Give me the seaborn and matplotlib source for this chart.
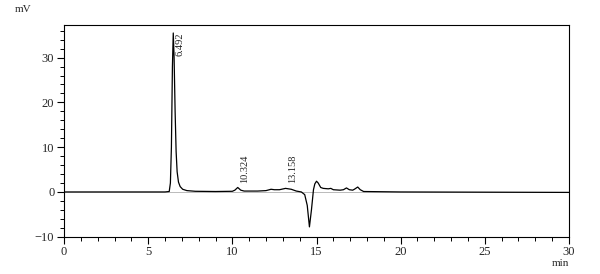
import matplotlib
matplotlib.use("Agg")
import matplotlib.pyplot as plt
import seaborn as sns
import pandas as pd
from matplotlib.ticker import MultipleLocator

time = [0.0, 6.0, 6.25, 6.32, 6.38, 6.44, 6.49, 6.54, 6.6, 6.66, 6.72, 6.8, 6.9, 7.05, 7.3, 7.8,
        9.0, 10.0, 10.15, 10.32, 10.5, 10.7, 11.5, 12.0, 12.3, 12.5, 12.8, 13.16, 13.5, 13.8,
        14.1, 14.3, 14.45, 14.58, 14.7, 14.82, 14.9, 15.0, 15.1, 15.25, 15.4, 15.7, 15.85, 16.0,
        16.4, 16.6, 16.78, 16.95, 17.15, 17.25, 17.45, 17.6, 17.8, 20.0, 30.0]
signal = [0.0, 0.0, 0.1, 2.0, 10.0, 28.0, 35.5, 30.0, 18.0, 9.0, 4.5, 2.2, 1.2, 0.6, 0.3, 0.15,
          0.1, 0.15, 0.4, 1.0, 0.4, 0.2, 0.2, 0.3, 0.6, 0.5, 0.5, 0.8, 0.6, 0.2,
          0.0, -0.6, -3.0, -7.8, -4.0, 0.5, 1.8, 2.4, 2.0, 1.0, 0.8, 0.7, 0.8, 0.5,
          0.4, 0.5, 0.9, 0.5, 0.4, 0.6, 1.1, 0.5, 0.1, 0.0, -0.1]
peak_times = [6.492, 10.324, 13.158]
peak_labels = ["6.492", "10.324", "13.158"]
peak_label_y = [35.5, 2.0, 1.9]

df = pd.DataFrame({"time": time, "signal": signal})

sns.set_style("ticks")
plt.rcParams["font.family"] = ["Liberation Serif", "DejaVu Serif"]

fig = plt.figure(figsize=(6, 2.74), dpi=100)
ax = fig.add_axes([0.1067, 0.136, 0.8416, 0.773])
ax.axhline(0, color="#b0b0b0", lw=0.6, zorder=1)
sns.lineplot(data=df, x="time", y="signal", ax=ax, color="black", lw=0.9, zorder=2)

for t, lab, yy in zip(peak_times, peak_labels, peak_label_y):
    ax.text(t + 0.15, yy, lab, rotation=90, ha="left", va="top" if yy > 30 else "bottom",
            fontsize=7.5, color="#222222")

ax.set_xlim(0, 30)
ax.set_ylim(-10, 37.3)
ax.xaxis.set_major_locator(MultipleLocator(5))
ax.xaxis.set_minor_locator(MultipleLocator(1))
ax.yaxis.set_major_locator(MultipleLocator(10))
ax.yaxis.set_minor_locator(MultipleLocator(2))
ax.tick_params(axis="both", which="major", length=5, width=0.8, labelsize=9, direction="out", color="black")
ax.tick_params(axis="x", which="major", pad=1.5)
ax.tick_params(axis="y", which="major", pad=2)
ax.tick_params(axis="both", which="minor", length=3, width=0.7, direction="out", color="black")
ax.set_xlabel("")
ax.set_ylabel("")
for s in ax.spines.values():
    s.set_visible(True)
    s.set_color("black")
    s.set_linewidth(0.8)

fig.text(15 / 600, 1 - 9 / 274, "mV", fontsize=8, ha="left", va="center")
fig.text(560 / 600, 1 - 264 / 274, "min", fontsize=8, ha="center", va="center")

fig.savefig("out.png", dpi=100)
